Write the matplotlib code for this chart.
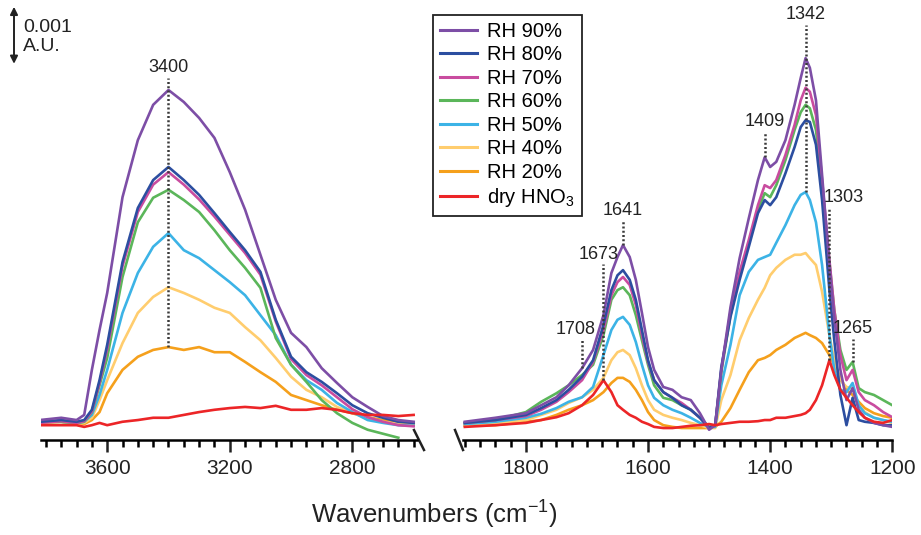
import numpy as np
import matplotlib.pyplot as plt
from matplotlib.ticker import MultipleLocator
from matplotlib.lines import Line2D

plt.rcParams['font.family'] = ['Liberation Sans', 'DejaVu Sans']
plt.rcParams['mathtext.default'] = 'regular'

# absorbance in units of 0.001 A.U.
# high-wavenumber region (O-H stretch)
wn_hi = [3820, 3750, 3700, 3675, 3650, 3625, 3600, 3550, 3500, 3450, 3400, 3350, 3300, 3250,
         3200, 3150, 3100, 3050, 3000, 2950, 2900, 2850, 2800, 2750, 2700, 2650, 2600]
rh90_hi = [0.35, 0.39, 0.35, 0.44, 1.23, 1.93, 2.58, 4.26, 5.26, 5.88, 6.14, 5.93, 5.65, 5.30,
           4.70, 4.04, 3.25, 2.46, 1.88, 1.63, 1.26, 1.00, 0.75, 0.58, 0.42, 0.35, 0.32]
rh80_hi = [0.32, 0.35, 0.32, 0.35, 0.53, 1.05, 1.67, 3.12, 4.07, 4.56, 4.79, 4.56, 4.30, 3.98,
           3.65, 3.33, 2.95, 2.11, 1.46, 1.19, 1.02, 0.82, 0.61, 0.47, 0.39, 0.32, 0.30]
rh70_hi = [0.30, 0.33, 0.30, 0.33, 0.50, 1.00, 1.60, 3.05, 4.00, 4.48, 4.70, 4.48, 4.22, 3.92,
           3.60, 3.28, 2.90, 2.08, 1.42, 1.14, 0.96, 0.75, 0.54, 0.40, 0.32, 0.26, 0.24]
rh60_hi = [0.32, 0.32, 0.30, 0.32, 0.49, 0.96, 1.44, 2.86, 3.82, 4.25, 4.39, 4.21, 4.00, 3.68,
           3.33, 3.02, 2.67, 1.79, 1.32, 1.02, 0.70, 0.47, 0.30, 0.18, 0.11, 0.04, np.nan]
rh50_hi = [0.32, 0.32, 0.30, 0.32, 0.44, 0.79, 1.23, 2.23, 2.93, 3.39, 3.63, 3.33, 3.19, 2.98,
           2.77, 2.54, 2.19, 1.84, 1.32, 1.05, 0.88, 0.65, 0.49, 0.35, 0.30, 0.26, 0.25]
rh40_hi = [0.30, 0.32, 0.28, 0.30, 0.39, 0.70, 1.05, 1.70, 2.23, 2.51, 2.68, 2.58, 2.46, 2.32,
           2.23, 1.98, 1.75, 1.44, 1.11, 0.88, 0.75, 0.58, 0.47, 0.39, 0.32, 0.28, 0.26]
rh20_hi = [0.30, 0.32, 0.28, 0.28, 0.35, 0.49, 0.82, 1.23, 1.46, 1.58, 1.63, 1.58, 1.63, 1.54,
           1.54, 1.37, 1.19, 1.02, 0.79, 0.70, 0.61, 0.53, 0.47, 0.40, 0.35, 0.32, 0.28]
dry_hi = [0.26, 0.26, 0.26, 0.23, 0.26, 0.30, 0.26, 0.32, 0.35, 0.39, 0.39, 0.44, 0.49, 0.53,
          0.56, 0.58, 0.56, 0.60, 0.53, 0.53, 0.56, 0.53, 0.47, 0.44, 0.44, 0.42, 0.44]

# low-wavenumber region
wn_lo = [1900, 1850, 1800, 1775, 1750, 1730, 1708, 1690, 1673, 1660, 1650, 1641, 1630, 1620,
         1610, 1600, 1590, 1575, 1560, 1545, 1530, 1515, 1500, 1490,
         1480, 1465, 1450, 1435, 1420, 1409, 1400, 1390, 1375, 1360, 1350, 1342, 1335, 1325,
         1315, 1303, 1295, 1285, 1275, 1265, 1255, 1245, 1230, 1215, 1200]
rh90_lo = [0.32, 0.39, 0.47, 0.61, 0.75, 0.96, 1.26, 1.58, 2.19, 2.93, 3.21, 3.42, 3.21, 2.81,
           2.23, 1.63, 1.23, 0.93, 0.88, 0.75, 0.70, 0.47, 0.18, 0.26,
           1.23, 2.33, 3.19, 3.89, 4.56, 4.96, 4.79, 4.88, 5.26, 5.88, 6.35, 6.70, 6.53, 5.96,
           4.65, 3.07, 2.14, 1.23, 0.70, 0.91, 0.53, 0.39, 0.30, 0.26, 0.23]
rh80_lo = [0.30, 0.35, 0.44, 0.56, 0.70, 0.88, 1.11, 1.40, 2.02, 2.63, 2.89, 2.98, 2.81, 2.46,
           1.93, 1.40, 1.05, 0.84, 0.74, 0.61, 0.53, 0.39, 0.21, 0.26,
           1.28, 2.16, 2.81, 3.39, 3.98, 4.21, 4.12, 4.26, 4.68, 5.14, 5.49, 5.61, 5.58, 5.18,
           4.21, 2.63, 1.75, 0.79, 0.26, 0.74, 0.35, 0.32, 0.30, 0.26, 0.26]
rh70_lo = [0.30, 0.35, 0.42, 0.53, 0.67, 0.84, 1.05, 1.37, 1.93, 2.54, 2.77, 2.86, 2.72, 2.37,
           1.84, 1.37, 1.05, 0.84, 0.74, 0.65, 0.53, 0.39, 0.21, 0.26,
           1.23, 2.25, 2.95, 3.51, 4.12, 4.47, 4.42, 4.56, 5.00, 5.53, 5.96, 6.18, 6.11, 5.70,
           4.56, 3.16, 2.28, 1.49, 1.05, 1.23, 0.84, 0.70, 0.61, 0.49, 0.40]
rh60_lo = [0.30, 0.35, 0.49, 0.67, 0.82, 0.96, 1.14, 1.32, 1.84, 2.46, 2.63, 2.68, 2.54, 2.19,
           1.75, 1.32, 0.96, 0.74, 0.70, 0.61, 0.53, 0.39, 0.23, 0.26,
           1.19, 2.19, 2.89, 3.46, 4.04, 4.33, 4.26, 4.47, 4.91, 5.44, 5.75, 5.88, 5.82, 5.44,
           4.47, 3.12, 2.28, 1.58, 1.23, 1.37, 0.91, 0.84, 0.79, 0.70, 0.61]
rh50_lo = [0.28, 0.32, 0.39, 0.46, 0.56, 0.67, 0.75, 0.93, 1.49, 1.93, 2.11, 2.16, 2.02, 1.72,
           1.32, 0.96, 0.74, 0.61, 0.53, 0.47, 0.39, 0.30, 0.23, 0.23,
           0.96, 1.67, 2.54, 2.95, 3.16, 3.21, 3.25, 3.46, 3.77, 4.12, 4.30, 4.35, 4.21, 3.82,
           3.07, 1.84, 1.23, 0.88, 0.84, 1.00, 0.61, 0.47, 0.39, 0.35, 0.32]
rh40_lo = [0.26, 0.30, 0.35, 0.44, 0.53, 0.65, 0.75, 0.88, 1.09, 1.40, 1.54, 1.58, 1.49, 1.26,
           0.96, 0.70, 0.53, 0.44, 0.39, 0.35, 0.30, 0.26, 0.21, 0.21,
           0.70, 1.14, 1.75, 2.14, 2.46, 2.67, 2.89, 3.02, 3.16, 3.25, 3.25, 3.28, 3.19, 3.07,
           2.60, 1.84, 1.40, 1.05, 0.93, 0.91, 0.61, 0.49, 0.39, 0.35, 0.30]
rh20_lo = [0.25, 0.26, 0.32, 0.35, 0.44, 0.53, 0.61, 0.70, 0.84, 1.00, 1.09, 1.09, 1.02, 0.88,
           0.70, 0.49, 0.35, 0.26, 0.23, 0.21, 0.21, 0.21, 0.21, 0.23,
           0.32, 0.56, 0.88, 1.19, 1.40, 1.44, 1.49, 1.58, 1.67, 1.79, 1.84, 1.88, 1.84, 1.79,
           1.70, 1.49, 1.32, 1.09, 0.88, 0.79, 0.67, 0.56, 0.47, 0.42, 0.39]
dry_lo = [0.23, 0.26, 0.30, 0.35, 0.40, 0.47, 0.61, 0.79, 1.05, 0.84, 0.61, 0.53, 0.44, 0.39,
          0.32, 0.28, 0.23, 0.21, 0.21, 0.23, 0.25, 0.26, 0.28, 0.26,
          0.28, 0.30, 0.32, 0.32, 0.33, 0.35, 0.35, 0.39, 0.39, 0.42, 0.44, 0.47, 0.53, 0.70,
          0.96, 1.40, 1.14, 0.88, 0.74, 0.61, 0.49, 0.39, 0.32, 0.30, 0.35]

labels = ['RH 90%', 'RH 80%', 'RH 70%', 'RH 60%', 'RH 50%', 'RH 40%', 'RH 20%', 'dry HNO$_3$']
colors = ['#7d4ea6', '#2c4ea0', '#c94c9f', '#5bb65a', '#3cb3e6', '#ffcd6e', '#f5a01c', '#ec2527']
series_hi = [rh90_hi, rh80_hi, rh70_hi, rh60_hi, rh50_hi, rh40_hi, rh20_hi, dry_hi]
series_lo = [rh90_lo, rh80_lo, rh70_lo, rh60_lo, rh50_lo, rh40_lo, rh20_lo, dry_lo]

# peak markers: wavenumber, index of the curve the dotted line drops to, label height
peaks_hi = [(3400, 6, 6.53)]
peaks_lo = [(1708, 0, 1.93), (1673, 7, 3.26), (1641, 0, 4.02), (1409, 0, 5.58),
            (1342, 4, 7.46), (1303, 7, 4.26), (1265, 3, 1.96)]
label_shift = {1708: 11, 1673: 8, 1303: -23}

W, H = 921, 535
fig = plt.figure(figsize=(W / 100, H / 100), dpi=100)
ax1 = fig.add_axes([41 / W, 95 / H, 376 / W, 440 / H])
ax2 = fig.add_axes([463 / W, 95 / H, 429.3 / W, 440 / H])

ymax = 440 / 57
for ax, wn, series, peaks in [(ax1, wn_hi, series_hi, peaks_hi), (ax2, wn_lo, series_lo, peaks_lo)]:
    order = [6, 5, 4, 3, 2, 1, 0, 7]
    for i in order:
        ax.plot(wn, series[i], color=colors[i], lw=1.9, zorder=3 + order.index(i) * 0.1,
                solid_joinstyle='round')
    for w, k, ly in peaks:
        ytop = np.interp(-w, -np.array(wn), np.array(series[k], dtype=float))
        ax.plot([w, w], [ytop, ly - 0.18], color='#3a3a3a', lw=1.8,
                linestyle=(0, (0.8, 0.9)), zorder=5)
        ax.text(w + label_shift.get(w, 0), ly, str(w), ha='center', va='center',
                fontsize=13, color='#222222', zorder=6)
    ax.set_ylim(0, ymax)
    ax.set_yticks([])
    for s in ['left', 'right', 'top']:
        ax.spines[s].set_visible(False)
    ax.spines['bottom'].set_linewidth(1.8)
    ax.tick_params(axis='x', which='major', length=8.5, width=1.8, direction='out',
                   labelsize=15, pad=5, colors='#222222')
    ax.tick_params(axis='x', which='minor', length=5, width=1.8, direction='out')
    ax.patch.set_visible(False)

ax1.set_xlim(3816, 2589)
ax1.xaxis.set_major_locator(MultipleLocator(400))
ax1.xaxis.set_minor_locator(MultipleLocator(50))
ax2.set_xlim(1903, 1200)
ax2.xaxis.set_major_locator(MultipleLocator(200))
ax2.xaxis.set_minor_locator(MultipleLocator(25))

# axis break marks
ax1.plot([0.992, 1.0186], [0.0227, -0.0227], transform=ax1.transAxes, color='#222222',
         lw=1.8, clip_on=False)
ax2.plot([-0.0186, 0.0], [0.0227, -0.0227], transform=ax2.transAxes, color='#222222',
         lw=1.8, clip_on=False)

# scale bar
trans = ax1.get_yaxis_transform()
ax1.annotate('', xy=(-0.0718, 7.60), xytext=(-0.0718, 6.60), xycoords=trans, textcoords=trans,
             arrowprops=dict(arrowstyle='<|-|>', color='#222222', lw=1.4, mutation_scale=11,
                             shrinkA=0, shrinkB=0), annotation_clip=False)
ax1.text(-0.048, 7.24, '0.001', transform=trans, fontsize=14, va='center', ha='left',
         color='#222222')
ax1.text(-0.048, 6.90, 'A.U.', transform=trans, fontsize=14, va='center', ha='left',
         color='#222222')

fig.text(434 / W, 1 - 515 / H, 'Wavenumbers (cm$^{-1}$)', ha='center', va='center',
         fontsize=18.5, color='#222222')

handles = [Line2D([0], [0], color=c, lw=2.2) for c in colors]
leg = ax2.legend(handles, labels, loc='upper left', bbox_to_anchor=(433 / W, 1 - 15 / H),
                 bbox_transform=fig.transFigure, frameon=True, fancybox=False,
                 edgecolor='#222222', framealpha=1, fontsize=14.5, handlelength=1.85,
                 handletextpad=0.5, labelspacing=0.22, borderpad=0.35, borderaxespad=0)
leg.get_frame().set_linewidth(1.3)

fig.savefig('out.png', dpi=100)
